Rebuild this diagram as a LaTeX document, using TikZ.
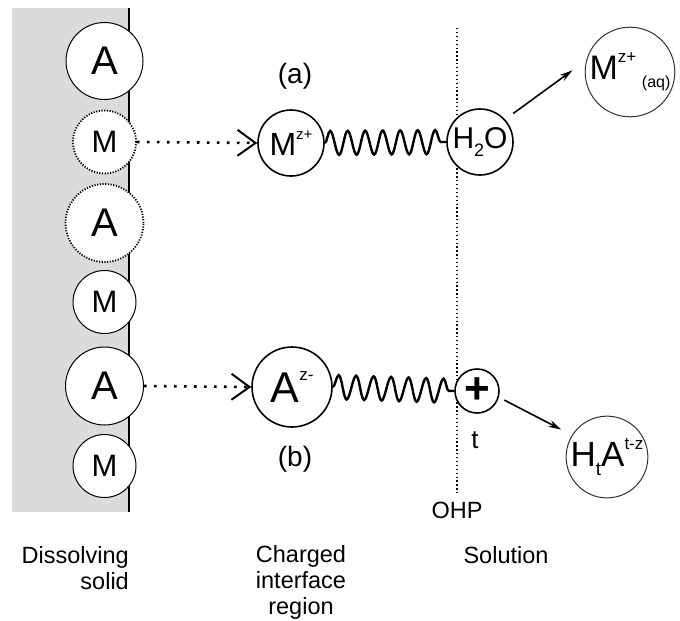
\documentclass[tikz,border=0pt]{standalone}
\usepackage{fontspec}
\setmainfont{Liberation Sans}
\usetikzlibrary{arrows.meta,decorations.pathmorphing,positioning}

% raised and lowered small text inside the ions
\newcommand{\ionsup}[2][14]{\raisebox{0.5em}{\fontsize{#1}{#1}\selectfont #2}}
\newcommand{\ionsub}[2][14]{\raisebox{-0.25em}{\fontsize{#1}{#1}\selectfont #2}}

\tikzset{
  wallatom/.style={circle, draw, line width=1pt, fill=white, inner sep=0pt, minimum size=#1},
  leftatom/.style={wallatom=#1, line width=1.8pt, dash pattern=on 1.2pt off 1.5pt},
  ion/.style={circle, draw, line width=1.6pt, fill=white, inner sep=0pt, minimum size=#1},
  freeion/.style={circle, draw=black!80, line width=1pt, fill=white, inner sep=0pt, minimum size=#1},
  trail/.style={line width=2.6pt, dash pattern=on 2.6pt off 7.4pt,
    -{Straight Barb[length=18pt, width=26pt, line width=2pt]}},
  spring/.style={line width=2.4pt, decorate,
    decoration={snake, segment length=17.5pt, amplitude=12pt}},
  push/.style={line width=1.6pt, -{Stealth[length=13pt, width=7pt]}},
  big/.style={font=\fontsize{40}{40}\selectfont},
  mid/.style={font=\fontsize{31}{31}\selectfont},
  tag/.style={font=\fontsize{28}{28}\selectfont},
}

\begin{document}
\begin{tikzpicture}[x=1pt, y=-1pt, font=\fontsize{23.5}{26}\selectfont]
\useasboundingbox (0,0) rectangle (680,621);

% dissolving solid
\fill[black!14] (12,8) rectangle (129,512);
\draw[line width=1.2pt] (129,8) -- (129,512);

% outer Helmholtz plane
\draw[line width=1.3pt, dash pattern=on 1.3pt off 2.6pt] (457,28) -- (457,495);

% surface atoms
\node[wallatom=77, big] (a1) at (104.5,61) {A};
\node[leftatom=63, mid] (m1) at (104.5,142) {M};
\node[leftatom=78, big] (a2) at (104.5,223) {A};
\node[wallatom=63, mid] (m2) at (104.5,302) {M};
\node[wallatom=78, big] (a3) at (104.5,386) {A};
\node[wallatom=63, mid] (m3) at (104.5,466) {M};

% (a) cation leaves with water
\node[ion=66, font=\fontsize{32}{32}\selectfont] (mion) at (291,143) {M\ionsup[15]{z+}};
\node[ion=66, font=\fontsize{30}{30}\selectfont] (water) at (480,142) {H\ionsub[18]{2}O};
\node[freeion=84, font=\fontsize{34}{34}\selectfont] (maq) at (630,72) {M\ionsup[17]{z+}\,\ionsub[16]{(aq)}};
\node[tag] (alab) at (295,76) {(a)};
\draw[trail] (m1.east) -- (mion.west);
\draw[spring] (mion.east) -- (water.west);
\draw[push, shorten <=10pt, shorten >=17pt] (water.42) -- (maq.165);

% (b) anion leaves with protons
\node[ion=80, font=\fontsize{43}{43}\selectfont] (aion) at (292,387) {A\ionsup[17]{z-}};
\node[ion=44, font=\fontsize{44}{44}\selectfont\bfseries] (plus) at (477,391) {+};
\node[freeion=80, font=\fontsize{35}{35}\selectfont] (hta) at (607,457) {H\ionsub[19]{t}A\ionsup[17]{t-z}};
\node[tag] (blab) at (295,459) {(b)};
\node[font=\fontsize{26}{26}\selectfont] (tlab) at (475,440) {t};
\draw[trail] (a3.east) -- (aion.west);
\draw[spring] (aion.east) -- (plus.west);
\draw[push, shorten <=6pt, shorten >=12pt] (plus.-16) -- (hta.148);

% region labels
\node[anchor=base] (ohp) at (457,518) {OHP};
\node[anchor=north east, inner sep=0pt, align=right] (solid) at (129,546) {Dissolving\\solid};
\node[anchor=north, inner sep=0pt, align=center] (region) at (301,545) {Charged\\interface\\region};
\node[anchor=base] (soln) at (506,563) {Solution};
\end{tikzpicture}
\end{document}
